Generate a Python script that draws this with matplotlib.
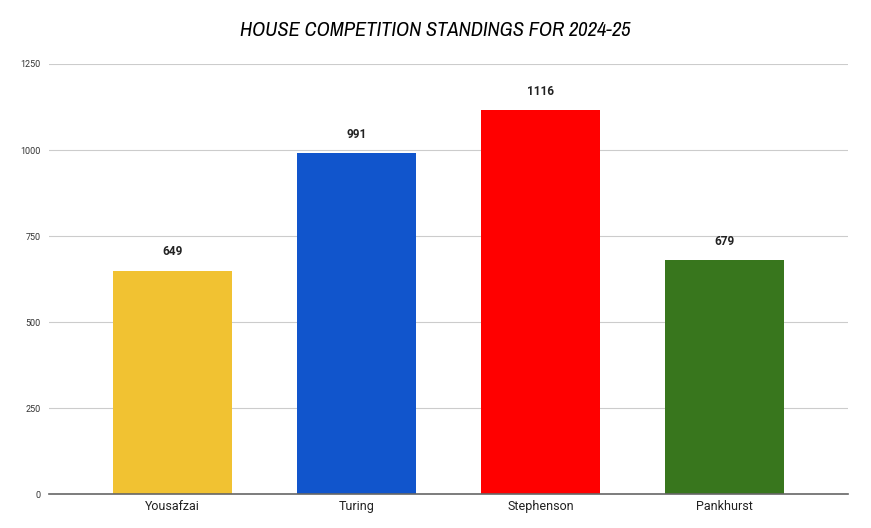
import matplotlib
matplotlib.use("Agg")
import matplotlib.pyplot as plt
from matplotlib import font_manager

houses = ["Yousafzai", "Turing", "Stephenson", "Pankhurst"]
points = [649, 991, 1116, 679]
colors = ["#F1C232", "#1155CC", "#FF0000", "#38761D"]
yticks = [0, 250, 500, 750, 1000, 1250]
title = "HOUSE COMPETITION STANDINGS FOR 2024-25"

names = {f.name for f in font_manager.fontManager.ttflist}
title_family = "Archivo Narrow" if "Archivo Narrow" in names else "DejaVu Sans"

fig = plt.figure(figsize=(8.71, 5.28), dpi=100)
ax = fig.add_axes([49/871, 1-494/528, (848-49)/871, (494-64)/528])

x = range(len(houses))
bars = ax.bar(x, points, width=0.648, color=colors, zorder=3)
for xi, v in zip(x, points):
    ax.annotate(str(v), (xi, v), xytext=(0, 9), textcoords="offset points",
                ha="center", va="bottom", fontsize=8.5, fontweight="bold",
                color="#222222", family="Roboto")

ax.set_xlim(-0.674, 3.674)
ax.set_ylim(0, 1250)
ax.set_yticks(yticks)
ax.set_yticklabels([str(t) for t in yticks], fontsize=6.5, color="#333333", family="Roboto")
ax.set_xticks(list(x))
ax.set_xticklabels(houses, fontsize=9, color="#222222", family="Roboto")
ax.tick_params(axis="both", length=0)
ax.tick_params(axis="y", pad=6)
ax.tick_params(axis="x", pad=4)
ax.grid(axis="y", color="#CCCCCC", linewidth=0.8, zorder=0)
for s in ["top", "right", "left"]:
    ax.spines[s].set_visible(False)
ax.spines["bottom"].set_color("#666666")
ax.spines["bottom"].set_linewidth(1.2)
ax.spines["bottom"].set_zorder(4)

fig.text(0.5, 1-30/528, title, ha="center", va="center", fontsize=14.8,
         style="italic", family=title_family, stretch="condensed", color="#000000")

fig.savefig("out.png", dpi=100)
